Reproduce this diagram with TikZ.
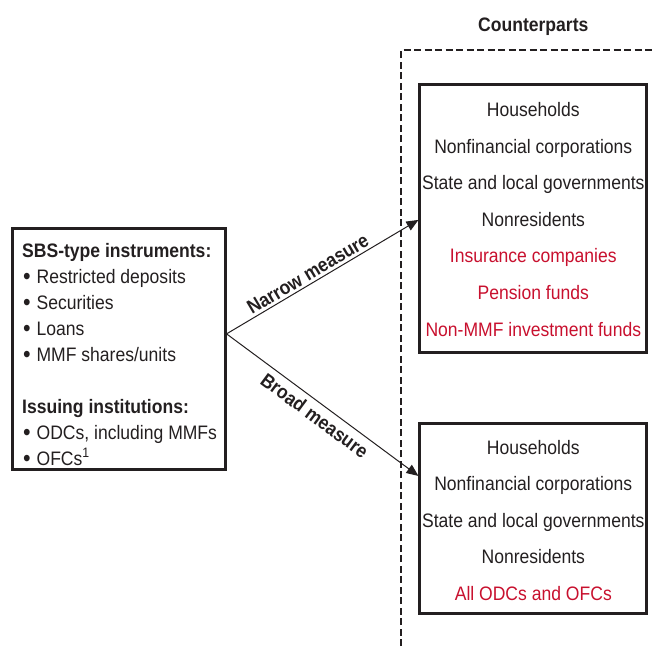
\documentclass[tikz,border=0pt]{standalone}
\usepackage{fontspec}
\setmainfont{Liberation Sans}[FakeStretch=0.9]
\usetikzlibrary{arrows.meta,calc}
\definecolor{imfred}{HTML}{C8102E}
\definecolor{ink}{HTML}{231F20}
\newcommand{\bigbul}{\raisebox{-1.8pt}{\fontsize{24}{23}\selectfont\textbullet}\hspace{0.3em}}
\begin{document}
\begin{tikzpicture}[x=1pt,y=-1pt,
  font=\fontsize{19.5}{23}\selectfont, text=ink,
  box/.style={draw=ink, line width=3pt, rectangle, inner sep=0pt},
  txt/.style={anchor=base, inner sep=0pt},
  ltxt/.style={anchor=base west, inner sep=0pt},
  hl/.style={text=imfred},
  bold/.style={font=\fontsize{19.5}{23}\selectfont\bfseries},
  conn/.style={draw=ink, line width=1pt, -{Triangle[length=12pt,width=10pt]}},
  lab/.style={font=\fontsize{19.5}{23}\selectfont\bfseries, sloped, inner sep=2.5pt},
  dashline/.style={draw=ink, line width=2.2pt, dash pattern=on 7pt off 3.5pt}
]
\useasboundingbox (0,0) rectangle (653,646);

% dashed frame of the counterparts
\coordinate (dtop) at (401,50);
\coordinate (dbot) at (401,646);
\coordinate (dright) at (653,50);
\draw[dashline] (dbot) -- (dtop) -- (dright);
\node[txt, bold] (title) at (533.3,31.7) {Counterparts};

% source box
\node[box, minimum width=212.3pt, minimum height=241pt] (src) at (118.9,348.5) {};
\node[ltxt, bold] (s1) at (22,257) {SBS-type instruments:};
\node[ltxt] (s2) at (23,283) {\bigbul Restricted deposits};
\node[ltxt] (s3) at (23,309) {\bigbul Securities};
\node[ltxt] (s4) at (23,335) {\bigbul Loans};
\node[ltxt] (s5) at (23,361) {\bigbul MMF shares/units};
\node[ltxt, bold] (s6) at (22,413) {Issuing institutions:};
\node[ltxt] (s7) at (23,439) {\bigbul ODCs, including MMFs};
\node[ltxt] (s8) at (23,465) {\bigbul OFCs\textsuperscript{1}};

% upper counterpart box
\node[box, minimum width=226.7pt, minimum height=268pt] (upper) at (533.3,218) {};
\node[txt] (u1) at (533.3,116.5) {Households};
\node[txt] (u2) at (533.3,153.1) {Nonfinancial corporations};
\node[txt] (u3) at (533.3,189.7) {State and local governments};
\node[txt] (u4) at (533.3,226.3) {Nonresidents};
\node[txt, hl] (u5) at (533.3,262.9) {Insurance companies};
\node[txt, hl] (u6) at (533.3,299.5) {Pension funds};
\node[txt, hl] (u7) at (533.3,336.1) {Non-MMF investment funds};

% lower counterpart box
\node[box, minimum width=226.7pt, minimum height=189.5pt] (lower) at (533.3,518.3) {};
\node[txt] (l1) at (533.3,454) {Households};
\node[txt] (l2) at (533.3,490.6) {Nonfinancial corporations};
\node[txt] (l3) at (533.3,527.2) {State and local governments};
\node[txt] (l4) at (533.3,563.8) {Nonresidents};
\node[txt, hl] (l5) at (533.3,600.4) {All ODCs and OFCs};

% connectors
\coordinate (srcpt) at ($(src.north east)!0.44!(src.south east)$);
\coordinate (narrowend) at ($(upper.north west)!0.507!(upper.south west)$);
\coordinate (broadend) at ($(lower.north west)!0.28!(lower.south west)$);
\draw[conn] (srcpt) -- node[lab, above, pos=0.45] (nlab) {Narrow measure} (narrowend);
\draw[conn] (srcpt) -- node[lab, below, pos=0.5, inner sep=5.5pt] (blab) {Broad measure} (broadend);
\end{tikzpicture}
\end{document}
